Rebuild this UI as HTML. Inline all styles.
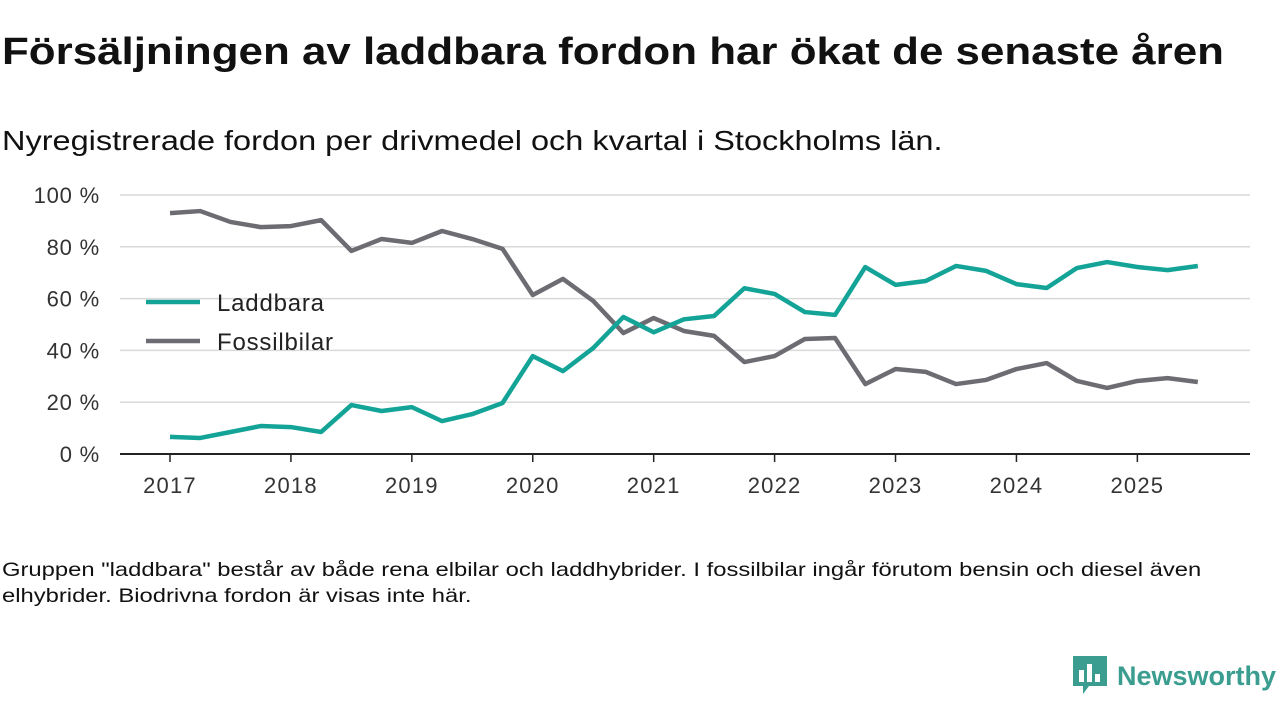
<!DOCTYPE html>
<html><head><meta charset="utf-8"><style>
body{margin:0;width:1280px;height:720px;background:#fff;font-family:"Liberation Sans","DejaVu Sans",sans-serif;overflow:hidden;position:relative}
.t{position:absolute;left:2px;color:#111;transform-origin:0 0;white-space:nowrap}
</style></head><body>
<div class="t" style="top:31px;font-size:38px;font-weight:bold;transform:scaleX(1.155)">Försäljningen av laddbara fordon har ökat de senaste åren</div>
<div class="t" style="top:125px;font-size:28px;transform:scaleX(1.16)">Nyregistrerade fordon per drivmedel och kvartal i Stockholms län.</div>
<div class="t" style="top:557px;font-size:19.5px;line-height:26px;width:990px;white-space:normal;transform:scaleX(1.22)">Gruppen "laddbara" består av både rena elbilar och laddhybrider. I fossilbilar ingår förutom bensin och diesel även elhybrider. Biodrivna fordon är visas inte här.</div>
<svg id="c" width="1280" height="720" style="position:absolute;left:0;top:0"></svg>
<div style="position:absolute;left:1073px;top:656px;display:flex;align-items:center">
<svg width="34" height="40"><path d="M0 0H34V30H16L10 38V30H0Z" fill="#3a9d8f"/><rect x="6" y="14" width="5" height="12" fill="#fff"/><rect x="14" y="8" width="5" height="18" fill="#fff"/><rect x="22" y="18" width="5" height="8" fill="#fff"/></svg>
<span style="margin-left:10px;font-size:27px;font-weight:bold;color:#3a9d8f">Newsworthy</span></div>
<script>
const years=["2017","2018","2019","2020","2021","2022","2023","2024","2025"];
const yTicks=[0,20,40,60,80,100];
const laddbara=[6.6,6.2,8.5,10.8,10.4,8.5,18.9,16.6,18.1,12.7,15.4,19.7,37.8,32,40.9,52.9,47,52,53.3,64,61.8,54.8,53.7,72.2,65.3,66.8,72.6,70.7,65.6,64.1,71.8,74.1,72.2,71,72.6];
const fossil=[93,93.8,89.6,87.6,88,90.3,78.4,83,81.5,86.1,83,79.2,61.4,67.6,59.1,46.7,52.5,47.5,45.6,35.5,37.8,44.4,44.8,27,32.8,31.7,27,28.6,32.8,35.1,28.2,25.5,28.2,29.3,27.8];
const ns="http://www.w3.org/2000/svg",svg=document.getElementById('c');
const X=i=>170+i*30.23, Y=v=>454-v*2.59;
function el(t,a){const e=document.createElementNS(ns,t);for(const k in a)e.setAttribute(k,a[k]);svg.appendChild(e);return e;}
yTicks.forEach(v=>{
 if(v>0){const g=el('line',{x1:120,x2:1250,y1:Y(v),y2:Y(v),stroke:'#d9d9d9','stroke-width':1.5});
 
 }
 const t=el('text',{x:100,y:Y(v)+8,'text-anchor':'end','font-size':22,'letter-spacing':0.8,fill:'#333'});t.textContent=v+' %';
 
 
});
const ax=el('line',{x1:120,x2:1250,y1:454,y2:454,stroke:'#222','stroke-width':2});


years.forEach((y,k)=>{const x=X(k*4);
 const tk=el('line',{x1:x,x2:x,y1:454,y2:462,stroke:'#222','stroke-width':1.5});
 
 
 const t=el('text',{x:x,y:493,'text-anchor':'middle','font-size':22,'letter-spacing':1.2,fill:'#333'});t.textContent=y;
 
 
});
function line(d,c,n){const p=el('polyline',{points:d.map((v,i)=>X(i)+','+Y(v)).join(' '),fill:'none',stroke:c,'stroke-width':4.5,'stroke-linejoin':'round'});
 
 }
line(fossil,'#6e6c73','fossilbilar-line');
line(laddbara,'#14a497','laddbara-line');
[['Laddbara','#14a497',302],['Fossilbilar','#6e6c73',341]].forEach(([n,c,y])=>{
 const l=el('line',{x1:146,x2:200,y1:y,y2:y,stroke:c,'stroke-width':4.5});
 
 
 const t=el('text',{x:217,y:y+9,'font-size':24,'letter-spacing':0.8,fill:'#222'});t.textContent=n;
 
 
});
</script>
</body></html>
